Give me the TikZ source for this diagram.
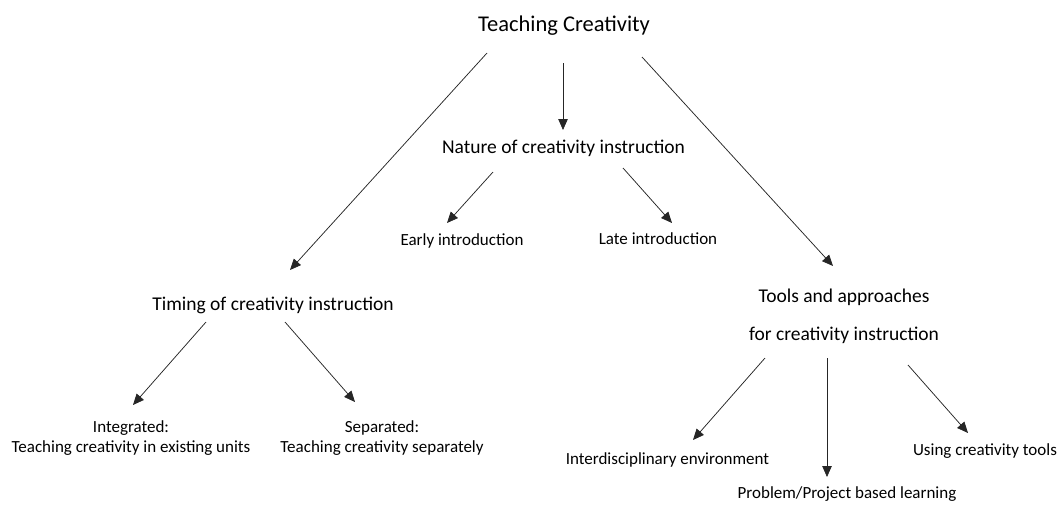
\documentclass[tikz,border=0pt]{standalone}
\usepackage{fontspec}
\setmainfont{Carlito}
\usetikzlibrary{arrows.meta}
\begin{document}
\begin{tikzpicture}[x=1pt,y=-1pt]
						\useasboundingbox (0,0) rectangle (1060,507);
						\begin{scope}[every node/.style={anchor=base, align=center, inner sep=0pt, font=\fontsize{17}{19.5}\selectfont}]
							\node[font=\fontsize{22.5}{27}\selectfont] (teach) at (564,31) {Teaching Creativity};
							\node[font=\fontsize{19.5}{23}\selectfont] (nature) at (563.5,153) {Nature of creativity instruction};
							\node (early) at (462,245) {Early introduction};
							\node (late) at (658,244) {Late introduction};
							\node[font=\fontsize{19.5}{23}\selectfont] (timing) at (273,310) {Timing of creativity instruction};
							\node[font=\fontsize{19.5}{38}\selectfont] (tools) at (844,340) {Tools and approaches\\for creativity instruction};
							\node (integ) at (131,452) {Integrated:\\Teaching creativity in existing units};
							\node (separ) at (382,452) {Separated:\\Teaching creativity separately};
							\node (inter) at (667.5,464) {Interdisciplinary environment};
							\node (pbl) at (847,498) {Problem/Project based learning};
							\node (usetools) at (985,455) {Using creativity tools};
						\end{scope}
						\begin{scope}[every edge/.style={draw=black!85, line width=0.75pt, -{Triangle[length=11pt,width=9.5pt]}}]
							\path ([shift={(-77,22)}]teach.base) edge ([shift={(17,-40)}]timing.base);
							\path ([shift={(-1,32)}]teach.base) edge ([shift={(-0.5,-23)}]nature.base);
							\path ([shift={(78,26)}]teach.base) edge ([shift={(-11,-74)}]tools.base);
							\path ([shift={(-70.5,19)}]nature.base) edge ([shift={(-15,-22)}]early.base);
							\path ([shift={(59.5,15)}]nature.base) edge ([shift={(14,-21)}]late.base);
							\path ([shift={(-67,12)}]timing.base) edge ([shift={(2,-47)}]integ.base);
							\path ([shift={(12,12)}]timing.base) edge ([shift={(-27,-50)}]separ.base);
							\path ([shift={(-79,18)}]tools.base) edge ([shift={(25.5,-24)}]inter.base);
							\path ([shift={(-17,18)}]tools.base) edge ([shift={(-20,-21)}]pbl.base);
							\path ([shift={(64,25)}]tools.base) edge ([shift={(-17,-22)}]usetools.base);
						\end{scope}
					\end{tikzpicture}
\end{document}
